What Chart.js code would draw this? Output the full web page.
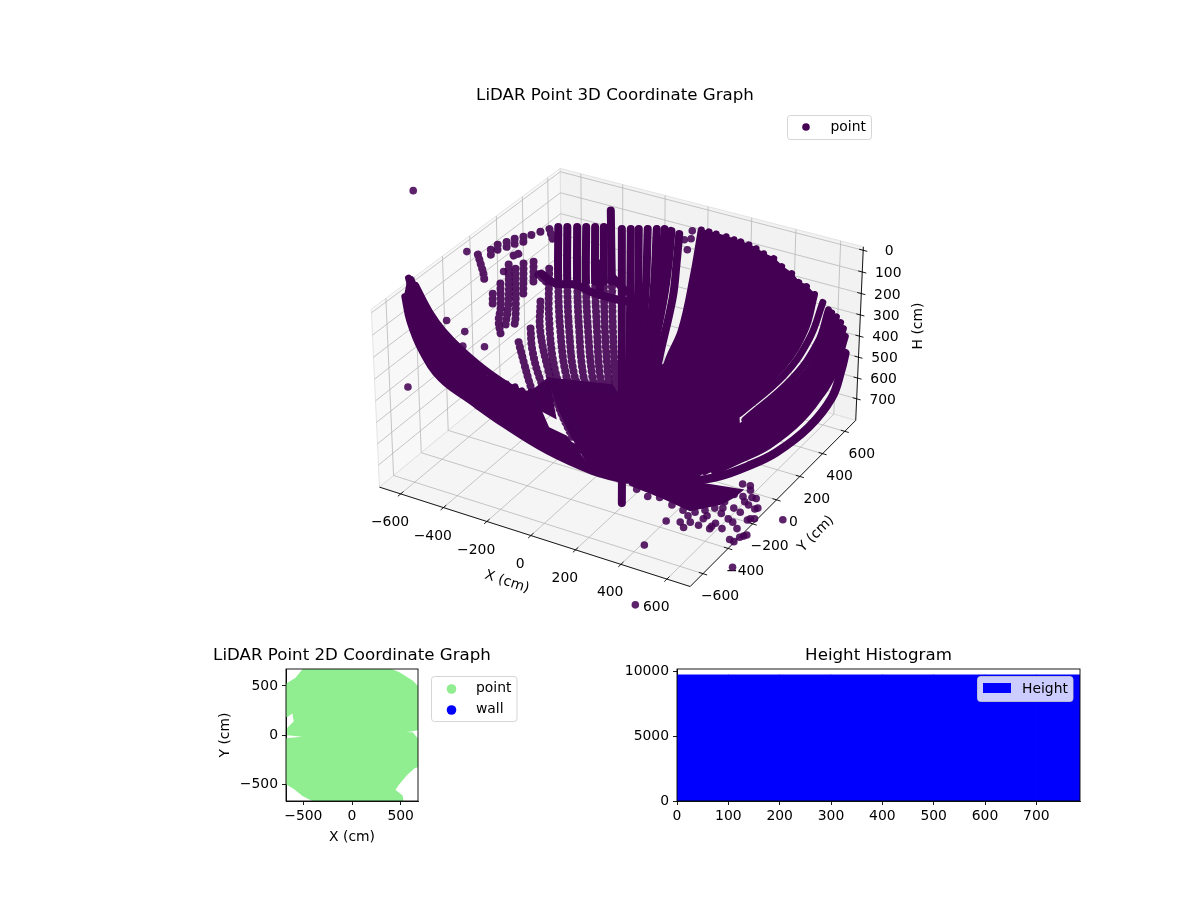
<!DOCTYPE html>
<html lang="en">
<head>
<meta charset="UTF-8">
<title>LiDAR Point Graphs</title>
<script src="https://cdn.jsdelivr.net/npm/chart.js"></script>
<style>
    html, body { margin: 0; background: #fff; }
    #page { position: relative; width: 1200px; height: 900px; overflow: hidden; }
    #page canvas { position: absolute; }
</style>
</head>
<body>
<div id="page">
    <canvas id="cloud" width="1200" height="900" style="left:0;top:0"></canvas>
    <canvas id="plan" width="332" height="205" style="left:186px;top:645px"></canvas>
    <canvas id="hist" width="517" height="205" style="left:620px;top:645px"></canvas>
</div>
<script>
// scan lines, each row is one line of [x, y, h] in cm
const sparseColumns = [
    [[-482,4,422],[-417,-58,480],[-358,-112,530],[-296,-162,580]],
    [[-468,74,388],[-419,6,442],[-333,-75,518],[-253,-125,572]],
    [[-486,182,318],[-430,86,392],[-325,-27,492],[-224,-120,580],[-118,-190,660]],
    [[-522,312,235],[-418,137,368],[-301,-14,492],[-180,-115,592],[-59,-189,680]]
];
const backColumns = [
    [[-577,477,130],[-464,286,268],[-360,127,392],[-253,-8,505],[-193,-47,548]],
    [[-545,496,130],[-432,304,268],[-329,145,392],[-225,9,505],[-165,-31,548]],
    [[-510,516,130],[-397,324,268],[-294,165,392],[-194,27,505],[-141,-17,548]],
    [[-478,535,130],[-366,342,268],[-263,183,392],[-163,44,505],[-117,-3,548]],
    [[-446,553,130],[-334,361,268],[-232,201,392],[-136,60,505],[-90,12,548]],
    [[-415,571,130],[-303,379,268],[-204,217,392],[-108,76,505],[-69,24,548]],
    [[-425,645,88],[-275,395,268],[-176,233,392],[-84,90,505],[-49,36,548]]
];
const frontColumns = [
    [[-347,601,135],[-145,251,392],[-13,22,568],[85,-146,705],[198,-343,790]],
    [[-315,619,135],[-117,267,392],[8,34,568],[143,-215,768]],
    [[-287,636,135],[-144,379,318],[-10,112,518],[149,-211,768]],
    [[-255,654,135],[-136,429,292],[-8,156,492],[163,-203,768]],
    [[-223,673,135],[-108,445,292],[13,168,492],[176,-196,768]],
    [[-195,689,135],[-104,494,268],[-49,350,368],[9,166,492],[106,-73,668]],
    [[-167,696,140],[-111,573,222],[-59,442,310],[16,213,468],[119,-66,668]],
    [[-133,701,148],[-83,590,222],[-28,460,310],[40,227,468],[136,-56,668]]
];
const rightArcs = [
    [[-63,761,138],[2,578,255],[63,371,392],[75,238,472],[136,-15,642]],
    [[-31,769,142],[28,598,252],[73,413,372],[99,227,488],[147,-50,668]],
    [[-2,777,148],[57,604,258],[97,427,372],[120,230,492],[153,-46,668]],
    [[39,787,155],[89,613,262],[121,440,372],[140,241,492],[167,-38,668]],
    [[73,792,162],[120,623,268],[152,441,380],[161,254,492],[181,-30,668]],
    [[101,799,168],[149,631,272],[181,449,388],[186,260,498],[194,-22,668]],
    [[136,804,175],[179,633,280],[205,463,388],[206,271,498],[215,-10,668]],
    [[169,805,185],[209,637,288],[230,468,392],[227,283,498],[235,1,668]],
    [[205,803,198],[246,639,298],[258,475,398],[248,295,498],[256,13,668]],
    [[251,806,210],[288,638,312],[291,482,405],[278,299,505],[283,29,668]],
    [[294,794,230],[327,632,330],[328,480,418],[310,306,512],[310,45,668]],
    [[343,789,248],[371,628,348],[364,480,430],[342,307,522],[338,61,668]],
    [[385,772,270],[409,615,368],[405,482,442],[382,315,530],[365,76,668]],
    [[406,765,280],[434,620,372],[432,480,452],[382,276,552],[324,53,668]],
    [[420,773,280],[441,642,362],[441,481,455],[371,253,562],[283,46,658]],
    [[463,761,300],[494,620,392],[481,451,485],[402,230,588],[295,25,675]],
    [[507,750,320],[525,603,412],[502,429,505],[416,214,602]],
    [[539,738,340],[561,606,422],[536,431,515],[446,206,618]],
    [[556,734,348],[584,580,445],[554,407,535],[447,182,632],[316,-12,705]],
    [[580,730,358],[604,566,460],[577,398,548],[459,159,650],[325,-28,718]],
    [[605,719,372],[629,555,475],[600,389,562],[467,135,668],[349,-31,728]],
    [[625,705,388],[649,541,490],[623,381,572],[480,114,685],[373,-33,738]],
    [[646,682,408],[671,527,505],[645,373,585],[490,88,705],[397,-36,748]],
    [[649,645,425],[655,565,480],[666,458,542],[638,317,618],[573,172,682],[499,72,718],[431,-16,748]]
];
const rimBand = [
    [[676,626,450],[692,560,492],[707,451,562],[679,307,635],[609,164,700],[534,63,735],[456,-22,760],[364,-98,772]]
];
const nearBand = [
    [[-715,-450,53],[-675,-480,139],[-576,-550,211],[-445,-620,263],[-292,-650,302],[-142,-650,364],[48,-650,425],[248,-650,456],[366,-650,453]],
    [[-742,-380,10],[-613,-510,69],[-498,-590,114],[-386,-635,175],[-249,-650,235],[-103,-650,291],[80,-650,353],[271,-650,386]],
    [[-717,-400,0],[-576,-530,30],[-468,-600,72],[-356,-640,128],[-226,-650,193],[-74,-650,250],[7,-650,294]],
    [[-683,-420,8],[-525,-560,19],[-435,-610,49],[-329,-640,93],[-205,-650,150],[-51,-650,208]],
    [[-205,-650,177],[-178,-650,321]],
    [[-165,-650,175],[-137,-650,323]],
    [[-128,-650,177],[-95,-650,333]],
    [[-90,-650,179],[-51,-650,342]],
    [[-60,-650,188],[-6,-650,352]],
    [[-20,-650,181],[-11,-650,263],[21,-650,361]]
];
const wallBeam = [
    [[-540,279,248],[-470,273,272],[-398,310,275],[-332,315,292],[-250,335,308],[-172,363,318],[-123,398,312]],
    [[-449,412,205],[-397,324,268]],
    [[-353,433,222],[-297,335,292]],
    [[-285,412,255],[-206,388,292]]
];
const wallFragments = [
    [[-769,260,188],[-749,228,210]],
    [[-755,291,175],[-737,259,198]],
    [[-729,319,168],[-713,292,188]],
    [[-707,346,160],[-686,310,185]],
    [[-680,371,155],[-666,347,172]],
    [[-656,394,150],[-648,380,160]],
    [[-630,423,142],[-620,406,155]],
    [[-604,452,135],[-573,424,160]],
    [[-804,216,200],[-772,187,225],[-741,158,250],[-721,132,270]],
    [[-675,285,202],[-662,302,198]],
    [[-669,111,298],[-641,64,335]],
    [[-663,161,272],[-613,80,335],[-595,35,368],[-563,-3,400]],
    [[-674,244,225],[-598,117,318],[-561,32,380]],
    [[-641,243,235],[-542,79,360],[-527,40,388]],
    [[-623,277,222],[-555,162,305]],
    [[-592,305,218],[-545,225,275]],
    [[-548,269,250],[-495,258,272]]
];
// outlines of the parts of the cloud where the returns merge into one solid area
const domeMain = [[75,238,472],[63,371,392],[2,578,255],[-63,761,138],[-31,769,142],[-2,777,148],[39,787,155],[73,792,162],[101,799,168],
    [136,804,175],[169,805,185],[205,803,198],[251,806,210],[294,794,230],[343,789,248],[385,772,270],[420,773,280],[463,761,300],
    [494,620,392],[481,451,485],[402,230,588],[490,88,705],[397,-36,748],[364,-98,772],[145,-205,762],[248,-650,456],
    [-118,-190,660],[-211,-133,592],[-310,-52,515],[-75,51,530],[-13,22,568],[-8,156,492],[16,213,468],[56,205,485]];
const domeRightStrip = [[556,734,348],[584,580,445],[554,407,535],[447,182,632],[499,72,718],[573,172,682],[638,317,618],[666,458,542],[655,565,480],[649,645,425],[646,682,408]];
const domeLeftBand = [[-715,-450,53],[-675,-480,139],[-576,-550,211],[-445,-620,263],[-292,-650,302],[-142,-650,364],[48,-650,425],[248,-650,456],[366,-650,453],
    [248,-650,456],[-138,-201,660],[-216,-210,638],[-276,-170,592],[-20,-650,181],[-60,-650,188],[-90,-650,179],[-128,-650,177],[-165,-650,175],[-205,-650,177],
    [-329,-640,93],[-435,-610,49],[-525,-560,19],[-683,-420,8],[-742,-380,10]];
const domeGapCap = [[-20,-650,181],[-310,-52,515],[-210,-165,612],[-276,-170,592]];
const domeLowerWedge = [[145,-205,762],[364,-98,772],[560,-26,790],[556,-81,790],[538,-152,790],[454,-255,790],[303,-227,790],[165,-223,780]];

// isolated returns
const strayX = [-1133,-849,-775,-691,-669,-591,-778,422,593,798,786,411,56,-93,-103,-81,-73,-677,
    549,579,589,585,619,637,609,633,675,668,594,557,630,570,680,686,700,612,638,674,584,624,583,582,528,534,496,462,492,466,530,721,728,712,686,707,
    198,262,306,374,430,478,504,530,541,548];
const strayY = [248,203,-73,-70,-121,-81,-362,-559,-927,-136,-525,-369,205,739,690,708,662,209,
    0,8,-9,-64,-53,-52,-95,-108,-110,-122,-157,-178,-171,-215,-206,-193,-185,-236,-248,-280,-288,-309,-333,-315,-284,-333,-330,-349,-376,-294,-257,-314,-301,-329,-362,-367,
    -226,-251,-234,-257,-269,-259,-226,-194,-134,-68];
const strayH = [0,192,365,395,432,432,535,790,790,790,790,790,485,140,162,160,188,242,
    778,782,790,790,790,790,790,790,790,790,790,790,790,790,790,790,790,790,790,790,790,790,790,790,790,790,790,790,790,790,790,790,790,790,790,790,
    790,790,790,790,790,790,790,790,790,790];

const xTicks3d = [-600,-400,-200,0,200,400,600];
const yTicks3d = [-600,-400,-200,0,200,400,600];
const hTicks3d = [0,100,200,300,400,500,600,700];

// outline of the 2D footprint
const footprintX = [-493,381,483,619,670,678,678,500,500,619,678,670,636,551,466,432,510,517,483,306,-384,-503,-588,-673,-678,-678,-401,-656,-656,-588,-605,-666,-678,-678,-571,-493];
const footprintY = [672,672,629,544,493,493,58,27,17,17,-51,-320,-330,-408,-510,-561,-622,-663,-673,-673,-673,-612,-544,-493,-493,-44,-17,7,68,136,238,194,194,510,578,672];
const wallX = [];
const wallY = [];
const planTicks = [-500,0,500];

const heightBinCenters = [50,150,250,350,450,550,650,750];
const heightBinCounts = [9700,9700,9700,9700,9700,9700,9700,9700];
const histXTicks = [0,100,200,300,400,500,600,700];
const histYTicks = [0,5000,10000];

Chart.defaults.font.family = '"DejaVu Sans"';
Chart.defaults.font.size = 13.9;
Chart.defaults.color = '#000';
Chart.defaults.animation = false;

const purple = '#440154';
const minusSign = v => String(v).replace('-', '\u2212');
const fixedTicks = list => s => { s.ticks = list.map(v => ({ value: v })); };

// same camera as a matplotlib 3D axes: elev 30, azim -60, dist 10
const LIM = 700, H_TOP = -16, H_BOTTOM = 805;
const BOX_XY = 1.1429, BOX_Z = 0.656;
function project(x, y, h) {
    const dx = x / (2 * LIM) * BOX_XY;
    const dy = y / (2 * LIM) * BOX_XY;
    const dz = ((H_TOP + H_BOTTOM) / 2 - h) / (H_BOTTOM - H_TOP) * BOX_Z;
    const u = 0.866 * dx + 0.5 * dy;
    const v = -0.25 * dx + 0.433 * dy + 0.866 * dz;
    const w = 10 - (0.433 * dx - 0.75 * dy + 0.5 * dz);
    return { x: u * 10 / w, y: v * 10 / w };
}

// dotFrom: from this segment on the line shows as separate dots, like the raw returns
function arcDatasets(rows, width, dotFrom) {
    return rows.map(row => ({
        data: row.map(p => project(p[0], p[1], p[2])),
        showLine: true,
        borderColor: purple,
        borderWidth: width,
        borderCapStyle: 'round',
        borderJoinStyle: 'round',
        tension: 0.4,
        pointRadius: 0,
        clip: false,
        segment: dotFrom === undefined ? undefined : {
            borderDash: c => (c.p0DataIndex >= dotFrom ? [0.01, 5] : undefined),
            borderColor: c => (c.p0DataIndex >= dotFrom ? 'rgba(68,1,84,0.9)' : undefined)
        }
    }));
}
function solidDataset(outline) {
    return {
        data: outline.concat([outline[0]]).map(p => project(p[0], p[1], p[2])),
        showLine: true,
        fill: 'shape',
        backgroundColor: purple,
        borderColor: purple,
        borderWidth: 2,
        tension: 0,
        pointRadius: 0,
        clip: false
    };
}

function legendBox(ctx, x, y, w, h) {
    ctx.save();
    ctx.beginPath();
    ctx.roundRect(x, y, w, h, 3);
    ctx.fillStyle = 'rgba(255,255,255,0.8)';
    ctx.fill();
    ctx.strokeStyle = 'rgba(204,204,204,0.8)';
    ctx.lineWidth = 1;
    ctx.stroke();
    ctx.restore();
}
function label(ctx, text, x, y, rotation, size) {
    ctx.save();
    ctx.translate(x, y);
    ctx.rotate((rotation || 0) * Math.PI / 180);
    ctx.font = (size || 13.9) + 'px "DejaVu Sans"';
    ctx.fillStyle = '#000';
    ctx.textAlign = 'center';
    ctx.textBaseline = 'middle';
    ctx.fillText(text, 0, 0);
    ctx.restore();
}

// panes, grid and axes of the 3D box, drawn through the chart's scales
const cubePlugin = {
    id: 'cube',
    beforeDatasetsDraw(chart) {
        const ctx = chart.ctx;
        const pt = (x, y, h) => {
            const p = project(x, y, h);
            return [chart.scales.x.getPixelForValue(p.x), chart.scales.y.getPixelForValue(p.y)];
        };
        const path = pts => {
            ctx.beginPath();
            pts.forEach((p, i) => { const q = pt(p[0], p[1], p[2]); i ? ctx.lineTo(q[0], q[1]) : ctx.moveTo(q[0], q[1]); });
        };
        const L = LIM, T = H_TOP, B = H_BOTTOM;
        const panes = [
            [[[-L,-L,B],[L,-L,B],[L,L,B],[-L,L,B]], 'rgba(236,236,236,0.5)'],
            [[[-L,-L,B],[-L,L,B],[-L,L,T],[-L,-L,T]], 'rgba(242,242,242,0.5)'],
            [[[-L,L,B],[L,L,B],[L,L,T],[-L,L,T]], 'rgba(230,230,230,0.5)']
        ];
        panes.forEach(([pts, color]) => {
            path(pts);
            ctx.closePath();
            ctx.fillStyle = color;
            ctx.fill();
            ctx.strokeStyle = 'rgba(225,225,225,0.9)';
            ctx.lineWidth = 1;
            ctx.stroke();
        });

        ctx.strokeStyle = '#b8b8b8';
        ctx.lineWidth = 0.8;
        xTicks3d.forEach(v => { path([[v,-L,B],[v,L,B],[v,L,T]]); ctx.stroke(); });
        yTicks3d.forEach(v => { path([[L,v,B],[-L,v,B],[-L,v,T]]); ctx.stroke(); });
        hTicks3d.forEach(v => { path([[-L,-L,v],[-L,L,v],[L,L,v]]); ctx.stroke(); });

        ctx.strokeStyle = '#000';
        ctx.lineWidth = 0.9;
        path([[-L,-L,B],[L,-L,B],[L,L,B],[L,L,T]]);
        ctx.stroke();
        xTicks3d.forEach(v => {
            path([[v,-L-20,B],[v,-L+20,B]]); ctx.stroke();
            const q = pt(v, -L, B);
            label(ctx, minusSign(v), q[0] - 10.7, q[1] + 28.5);
        });
        yTicks3d.forEach(v => {
            path([[L-18,v,B],[L+18,v,B]]); ctx.stroke();
            const q = pt(L, v, B);
            label(ctx, minusSign(v), q[0] + 17, q[1] + 23);
        });
        hTicks3d.forEach(v => {
            path([[L-18,L,v],[L+18,L,v]]); ctx.stroke();
            const q = pt(L, L, v);
            label(ctx, String(v), q[0] + 26, q[1] + 1.5);
        });
        label(ctx, 'X (cm)', 507, 582, 18);
        label(ctx, 'Y (cm)', 816, 534, -45);
        label(ctx, 'H (cm)', 918, 326, -90);
    },
    afterDraw(chart) {
        const ctx = chart.ctx;
        label(ctx, 'LiDAR Point 3D Coordinate Graph', 615, 96, 0, 16.67);
        legendBox(ctx, 787.5, 115.5, 84, 24);
        ctx.beginPath();
        ctx.arc(806, 127, 3.8, 0, Math.PI * 2);
        ctx.fillStyle = purple;
        ctx.fill();
        ctx.font = '13.9px "DejaVu Sans"';
        ctx.fillStyle = '#000';
        ctx.textAlign = 'left';
        ctx.textBaseline = 'middle';
        ctx.fillText('point', 830.5, 127);
    }
};

new Chart(document.getElementById('cloud'), {
    type: 'scatter',
    data: {
        datasets: [
            ...arcDatasets(sparseColumns, 8, 0),
            ...arcDatasets(backColumns, 8, 1),
            ...arcDatasets(frontColumns, 8),
            ...arcDatasets(rightArcs, 7),
            ...arcDatasets(rimBand, 8.5),
            ...arcDatasets(nearBand, 7),
            ...arcDatasets(wallBeam, 8),
            ...arcDatasets(wallFragments, 8, 0),
            solidDataset(domeMain),
            solidDataset(domeRightStrip),
            solidDataset(domeLeftBand),
            solidDataset(domeGapCap),
            solidDataset(domeLowerWedge),
            {
                label: 'point',
                data: strayX.map((x, i) => project(x, strayY[i], strayH[i])),
                backgroundColor: 'rgba(68,1,84,0.87)',
                borderWidth: 0,
                pointRadius: 3.8,
                clip: false
            }
        ]
    },
    options: {
        responsive: false,
        layout: { padding: 0 },
        plugins: { legend: { display: false }, tooltip: { enabled: false } },
        scales: {
            x: { display: false, min: -622 / 312, max: 578 / 312 },
            y: { display: false, min: -534 / 312, max: 366 / 312 }
        }
    },
    plugins: [cubePlugin]
});

const framePlugin = {
    id: 'frame',
    afterDraw(chart) {
        const a = chart.chartArea, ctx = chart.ctx;
        ctx.save();
        ctx.strokeStyle = '#000';
        ctx.lineWidth = 0.9;
        ctx.strokeRect(a.left, a.top, a.right - a.left, a.bottom - a.top);
        ctx.restore();
        label(ctx, chart.options.plugins.subtitle.text, (a.left + a.right) / 2, 11, 0, 16.67);
    }
};
const axisGrid = { drawOnChartArea: false, tickLength: 4, tickColor: '#000', lineWidth: 0.9 };
const axisBorder = { color: '#000', width: 0.9 };

new Chart(document.getElementById('plan'), {
    type: 'scatter',
    data: {
        datasets: [
            {
                label: 'point',
                data: footprintX.map((x, i) => ({ x: x, y: footprintY[i] })),
                showLine: true,
                fill: 'shape',
                tension: 0,
                backgroundColor: '#90ee90',
                borderColor: '#90ee90',
                borderWidth: 2,
                pointRadius: 0
            },
            { label: 'wall', data: wallX.map((x, i) => ({ x: x, y: wallY[i] })), backgroundColor: '#0000ff' }
        ]
    },
    options: {
        responsive: false,
        layout: { padding: { top: 24, right: 100 } },
        plugins: {
            legend: { display: false },
            tooltip: { enabled: false },
            subtitle: { display: false, text: 'LiDAR Point 2D Coordinate Graph' }
        },
        scales: {
            x: {
                min: -678, max: 678,
                afterFit(s) { s.height = 49; },
                afterBuildTicks: fixedTicks(planTicks),
                grid: axisGrid, border: axisBorder,
                ticks: { maxRotation: 0, padding: 2.7, callback: minusSign },
                title: { display: true, text: 'X (cm)', padding: { top: 0, bottom: 4 } }
            },
            y: {
                min: -672, max: 672,
                afterFit(s) { s.width = 100; },
                afterBuildTicks: fixedTicks(planTicks),
                grid: axisGrid, border: axisBorder,
                ticks: { padding: 4, callback: minusSign },
                title: { display: true, text: 'Y (cm)', padding: { top: 31, bottom: 0 } }
            }
        }
    },
    plugins: [framePlugin, {
        id: 'planLegend',
        afterDraw(chart) {
            const ctx = chart.ctx;
            legendBox(ctx, 245.5, 31.5, 85.5, 45);
            ctx.font = '13.9px "DejaVu Sans"';
            ctx.textAlign = 'left';
            ctx.textBaseline = 'middle';
            [['point', '#90ee90', 44], ['wall', '#0000ff', 65]].forEach(([name, color, y]) => {
                ctx.beginPath();
                ctx.arc(265.5, y, 4.8, 0, Math.PI * 2);
                ctx.fillStyle = color;
                ctx.fill();
                ctx.fillStyle = '#000';
                ctx.fillText(name, 290, y - 0.5);
            });
        }
    }]
});

new Chart(document.getElementById('hist'), {
    type: 'bar',
    data: {
        datasets: [{
            label: 'Height',
            data: heightBinCenters.map((x, i) => ({ x: x, y: heightBinCounts[i] })),
            backgroundColor: '#0000ff',
            barPercentage: 1,
            categoryPercentage: 1
        }]
    },
    options: {
        responsive: false,
        layout: { padding: { top: 24, right: 57 } },
        plugins: {
            legend: { display: false },
            tooltip: { enabled: false },
            subtitle: { display: false, text: 'Height Histogram' }
        },
        scales: {
            x: {
                type: 'linear', offset: false, min: 0, max: 785,
                afterFit(s) { s.height = 49; },
                afterBuildTicks: fixedTicks(histXTicks),
                grid: { ...axisGrid, offset: false }, border: axisBorder,
                ticks: { maxRotation: 0, padding: 2.7 }
            },
            y: {
                min: 0, max: 10154,
                afterFit(s) { s.width = 57; },
                afterBuildTicks: fixedTicks(histYTicks),
                grid: axisGrid, border: axisBorder,
                ticks: { padding: 4, callback: v => String(v) }
            }
        }
    },
    plugins: [framePlugin, {
        id: 'histLegend',
        afterDraw(chart) {
            const ctx = chart.ctx;
            legendBox(ctx, 357.5, 31.5, 95.5, 25);
            ctx.fillStyle = '#0000ff';
            ctx.fillRect(363, 38, 28, 10);
            ctx.font = '13.9px "DejaVu Sans"';
            ctx.fillStyle = '#000';
            ctx.textAlign = 'left';
            ctx.textBaseline = 'middle';
            ctx.fillText('Height', 402, 44);
        }
    }]
});
</script>
</body>
</html>
